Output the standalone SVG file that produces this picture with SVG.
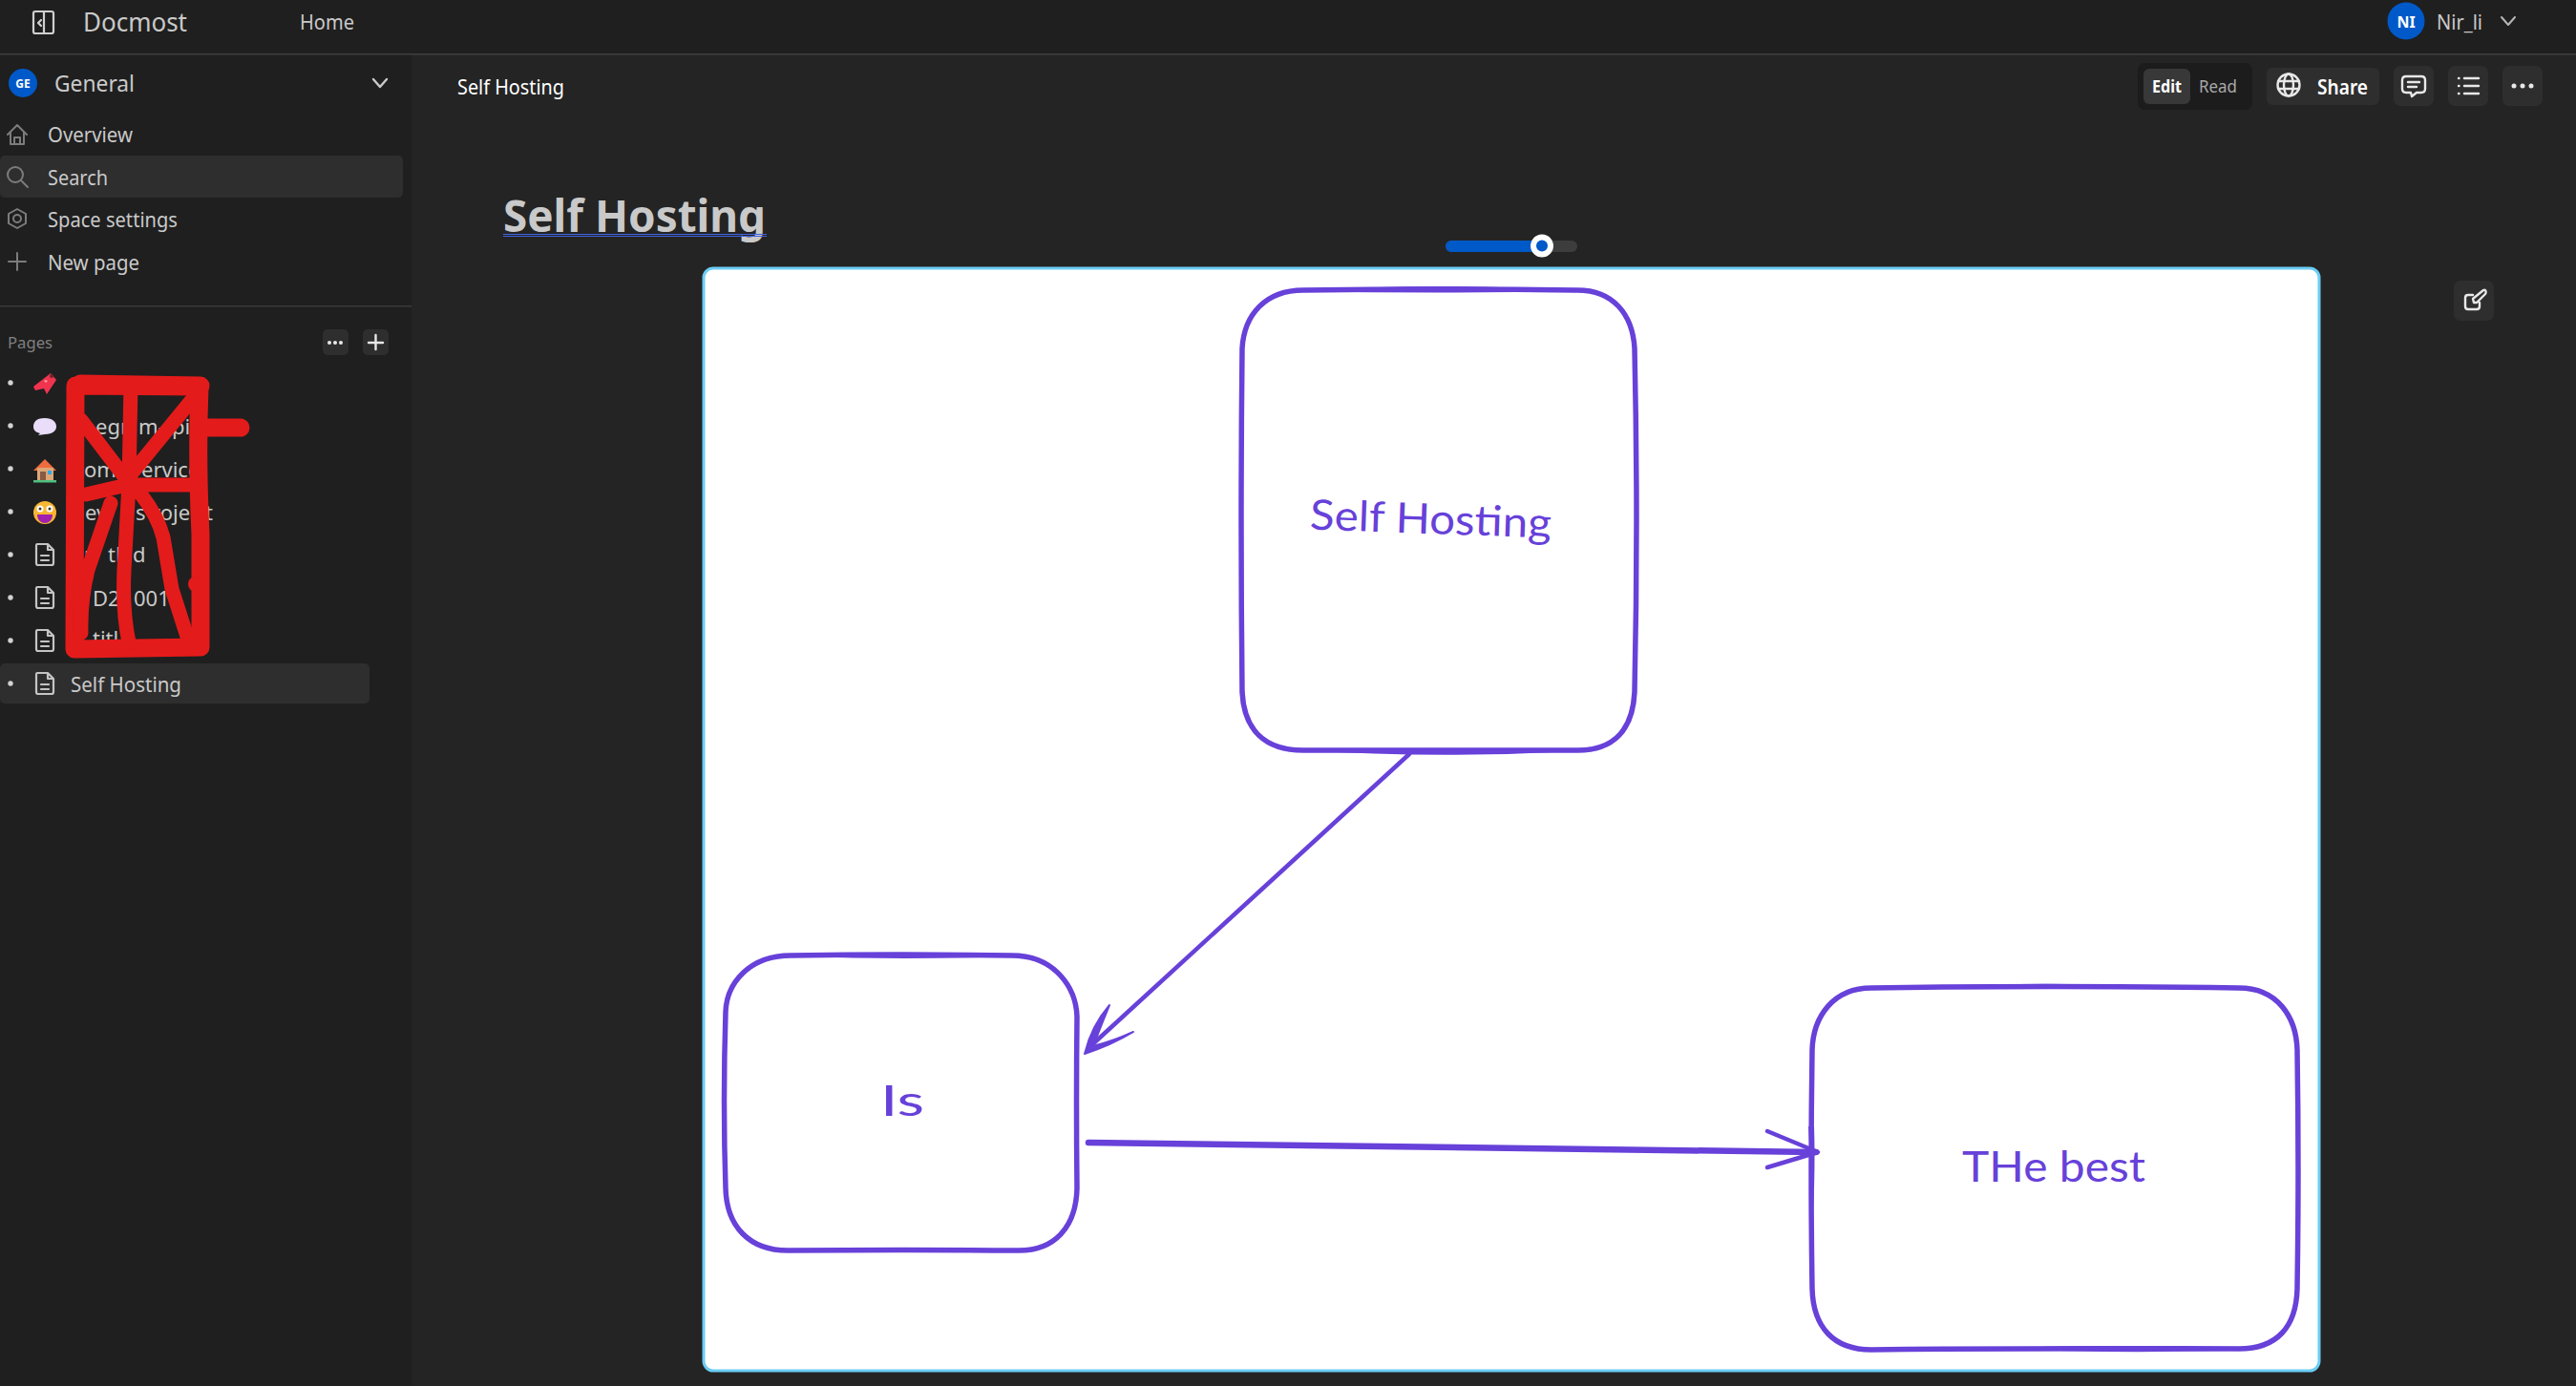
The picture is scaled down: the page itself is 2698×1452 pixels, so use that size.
<svg xmlns="http://www.w3.org/2000/svg" width="2698" height="1452" viewBox="0 0 2698 1452">
<style>
text{font-family:"Noto Sans","Open Sans",sans-serif;fill:#c9c9c9;font-size:21px}
.w{fill:#fff}.b{font-weight:700}
.ln{fill:none;stroke-linecap:round;stroke-linejoin:round}
.ic{fill:none;stroke:#7c7c7c;stroke-width:2;stroke-linecap:round;stroke-linejoin:round}
.iw{fill:none;stroke:#e8e8e8;stroke-width:2.4;stroke-linecap:round;stroke-linejoin:round}
.doc{fill:none;stroke:#c4c4c4;stroke-width:2.2;stroke-linejoin:round;stroke-linecap:round}
.btn{fill:#2e2e2e}
.dot{fill:#d2d2d2}
.red{fill:none;stroke:#e41b1b;stroke-width:19;stroke-linecap:round;stroke-linejoin:round}
.red2{fill:none;stroke:#e41b1b;stroke-width:15;stroke-linecap:round;stroke-linejoin:round}
.sk{fill:none;stroke:#6741d9;stroke-width:5.5;stroke-linecap:round;stroke-linejoin:round}
.lens{fill:#6741d9}
.hand{font-family:"Lato","Noto Sans",sans-serif;fill:#6741d9;font-size:44px}
</style>
<defs>
<g id="docicon"><path class="doc" d="M-8-11H3L9-5V9Q9 11 7 11H-7Q-9 11-9 9V-9Q-9-11-8-11ZM3-11V-5H9M-4 1H4M-4 6H4"/></g>
</defs>
<rect id="bg" width="2698" height="1452" fill="#242424"/>
<rect id="sidebar" y="56" width="431" height="1396" fill="#1f1f1f"/>
<g id="header">
<rect width="2698" height="56" fill="#1f1f1f"/>
<rect y="56" width="2698" height="1.5" fill="#3f3f3f"/>
<rect class="doc" style="stroke:#d0d0d0" x="35" y="12" width="21" height="23" rx="2"/><path class="doc" style="stroke:#d0d0d0" d="M46 12V35M43 21L40 24L43 27"/>
<text x="87" y="33" style="font-size:28px" textLength="109" lengthAdjust="spacingAndGlyphs">Docmost</text>
<text x="314" y="31" textLength="57" lengthAdjust="spacingAndGlyphs">Home</text>
<circle cx="2520" cy="22" r="19.5" fill="#0059c8"/>
<text x="2520" y="29" text-anchor="middle" class="w b" style="font-size:16px">NI</text>
<text x="2552" y="31" textLength="48" lengthAdjust="spacingAndGlyphs">Nir_li</text>
<path class="ic" style="stroke:#b5b5b5" d="M2620 18L2627 26L2634 18"/>
</g>
<g id="nav">
<circle cx="24" cy="87" r="15" fill="#0059c8"/>
<text x="24" y="92" text-anchor="middle" class="w b" style="font-size:12px">GE</text>
<text x="57" y="96" style="font-size:24px" textLength="84" lengthAdjust="spacingAndGlyphs">General</text>
<path class="iw" style="stroke:#c9c9c9" d="M391 83L398 91L405 83"/>
<path class="ic" d="M8 141L18 131L28 141M11 138V151H25V138M15 151V144H21V151"/>
<text x="50" y="149" textLength="89" lengthAdjust="spacingAndGlyphs">Overview</text>
<rect y="163" width="422" height="44" rx="5" fill="#2e2e2e"/>
<circle class="ic" cx="16" cy="183" r="8"/><path class="ic" d="M22 189L29 196"/>
<text x="50" y="194" textLength="63" lengthAdjust="spacingAndGlyphs">Search</text>
<path class="ic" d="M18 219L27 224V234L18 239L9 234V224Z"/><circle class="ic" cx="18" cy="229" r="4"/>
<text x="50" y="238" textLength="136" lengthAdjust="spacingAndGlyphs">Space settings</text>
<path class="ic" d="M18 265V283M9 274H27"/>
<text x="50" y="283" textLength="96" lengthAdjust="spacingAndGlyphs">New page</text>
<rect y="320" width="431" height="1.5" fill="#3a3a3a"/>
</g>
<g id="pages">
<text x="8" y="365" style="font-size:17px;fill:#808080" textLength="47" lengthAdjust="spacingAndGlyphs">Pages</text>
<rect class="btn" x="338" y="345" width="27" height="27" rx="5"/><circle fill="#e8e8e8" cx="345" cy="359" r="2"/><circle fill="#e8e8e8" cx="351" cy="359" r="2"/><circle fill="#e8e8e8" cx="357" cy="359" r="2"/>
<rect class="btn" x="380" y="345" width="27" height="27" rx="5"/><path class="iw" d="M393.500 351V366M386 359H401"/>
<g class="bul"><circle class="dot" cx="11" cy="401" r="2.700"/><circle class="dot" cx="11" cy="446" r="2.700"/><circle class="dot" cx="11" cy="491" r="2.700"/><circle class="dot" cx="11" cy="536" r="2.700"/><circle class="dot" cx="11" cy="581" r="2.700"/><circle class="dot" cx="11" cy="626" r="2.700"/><circle class="dot" cx="11" cy="671" r="2.700"/></g>
<path d="M35 405L53 391L59 398L49 413L46 407L37 409Z" fill="#f0344f"/><circle cx="54" cy="394" r="2" fill="#6a2430"/><path d="M48 401l-2-2 2-1 2 1z" fill="#ff9aa8"/>
<path d="M47 438C37 438 35 443 35 447C35 451 38 453 42 454L40 456L47 455C55 455 59 451 59 447C59 442 55 438 47 438Z" fill="#e9ddfa"/>
<path d="M47 481L59 493H35Z" fill="#ee6c3e"/><rect x="39" y="490" width="17" height="13" fill="#dca878"/><rect x="42" y="494" width="6" height="9" fill="#8a5b44"/><rect x="50" y="493" width="4" height="4" fill="#32a8e8"/><rect x="35" y="503" width="24" height="2.500" fill="#4fbf7f"/>
<circle cx="47" cy="537" r="12" fill="#f7b733"/><circle cx="42" cy="533" r="3.500" fill="#fff"/><circle cx="52" cy="533" r="3.500" fill="#fff"/><circle cx="42" cy="533" r="1.500" fill="#432"/><circle cx="52" cy="533" r="1.500" fill="#432"/><path d="M39 539H55C55 545 51 548 47 548C43 548 39 545 39 539Z" fill="#a020b0"/>
<use href="#docicon" x="47" y="581"/><use href="#docicon" x="47" y="626"/><use href="#docicon" x="47" y="671"/>
<g id="fragments">
<text x="176" y="412">NFO</text>
<text y="455" style="font-size:22px"><tspan x="100">egr</tspan><tspan x="145">m-</tspan><tspan x="180">pi-</tspan></text>
<text y="500" style="font-size:22px"><tspan x="88">om</tspan><tspan x="148">ervice</tspan></text>
<text y="545" style="font-size:22px"><tspan x="89">ev</tspan><tspan x="142">s</tspan><tspan x="159">roje</tspan><tspan x="215">t</tspan></text>
<text y="589" style="font-size:22px"><tspan x="88">n</tspan><tspan x="113">tl</tspan><tspan x="139">d</tspan></text>
<text y="635" style="font-size:22px"><tspan x="97">D</tspan><tspan x="113">2</tspan><tspan x="140">001</tspan></text>
<text x="97" y="677" style="font-size:22px">titl</text>
</g>
<g id="redaction">
<path class="red" d="M79 404L78 680L210 678L210 560Q206 480 209 405Z"/>
<path class="red" d="M84 402L210 404M213 448H252"/>
<path class="red2" d="M137 402L135 507L130 597Q128 640 135 673M85 440L133 503M200 420L137 497M90 518L133 508H207M116 527L92 597Q84 630 85 663M147 517Q165 540 171 563L180 617L197 670"/>
<circle cx="205" cy="612" r="8" fill="#e41b1b"/>
</g>
<rect y="695" width="387" height="42" rx="5" fill="#2e2e2e"/>
<circle class="dot" cx="11" cy="716" r="2.700"/>
<use href="#docicon" x="47" y="716"/>
<text x="74" y="725" textLength="116" lengthAdjust="spacingAndGlyphs">Self Hosting</text>
</g>
<g id="page-head">
<text x="479" y="99" class="w" textLength="112" lengthAdjust="spacingAndGlyphs">Self Hosting</text>
<text x="527" y="243" class="b" style="font-size:46px;fill:#c9c9c9" textLength="275" lengthAdjust="spacingAndGlyphs">Self Hosting</text>
<path d="M527 245.500H803M527 247.500H803" stroke="#3f62e0" stroke-width="1" fill="none"/>
</g>
<g id="toolbar">
<rect x="2239" y="66" width="120" height="49" rx="7" fill="#1c1c1c"/>
<rect x="2245" y="72" width="49" height="37" rx="6" fill="#383838"/>
<text x="2254" y="97" class="w b" style="font-size:18px" textLength="31" lengthAdjust="spacingAndGlyphs">Edit</text>
<text x="2303" y="97" style="font-size:18px;fill:#a8a8a8" textLength="40" lengthAdjust="spacingAndGlyphs">Read</text>
<rect class="btn" x="2374" y="71" width="118" height="39" rx="6"/>
<g class="iw"><circle cx="2397" cy="89" r="11.500"/><ellipse cx="2397" cy="89" rx="5" ry="11.500"/><path d="M2386 85H2408M2386 93H2408"/></g>
<text x="2427" y="99" class="w" style="font-weight:600" textLength="53" lengthAdjust="spacingAndGlyphs">Share</text>
<rect class="btn" x="2507" y="69" width="42" height="42" rx="7"/>
<path class="iw" d="M2520 80H2536Q2540 80 2540 84V93Q2540 97 2536 97H2531L2526 101L2525 97H2520Q2516 97 2516 93V84Q2516 80 2520 80ZM2522 86H2534M2522 91H2531"/>
<rect class="btn" x="2564" y="69" width="42" height="42" rx="7"/>
<path class="iw" d="M2581 82H2596M2581 90H2596M2581 98H2596M2575 82H2575.500M2575 90H2575.500M2575 98H2575.500"/>
<rect class="btn" x="2621" y="69" width="42" height="42" rx="7"/>
<circle cx="2633" cy="90" r="2.500" fill="#e8e8e8"/><circle cx="2642" cy="90" r="2.500" fill="#e8e8e8"/><circle cx="2651" cy="90" r="2.500" fill="#e8e8e8"/>
<rect class="btn" x="2570" y="294" width="42" height="42" rx="7"/>
<path class="iw" d="M2590 309H2585Q2582 309 2582 312V321Q2582 324 2585 324H2594Q2597 324 2597 321V317M2591 317L2590 313L2601 304Q2603 303 2603.500 305Q2604 307 2603 308L2594 317Z"/>
</g>
<g id="slider">
<rect x="1514" y="252" width="138" height="12" rx="6" fill="#3d3d3d"/>
<rect x="1514" y="252" width="102" height="12" rx="6" fill="#0059c8"/>
<circle cx="1615" cy="257.500" r="9" fill="#0059c8" stroke="#fff" stroke-width="6"/>
</g>
<rect id="canvas" x="737" y="281" width="1692" height="1155" rx="10" fill="#fff" stroke="#6bcdf5" stroke-width="3"/>
<g id="connectors">
<path class="sk" style="stroke-width:4.500" d="M1476 790L1140 1098"/>
<path class="lens" d="M1162 1053Q1150 1082 1146 1094L1136 1104Q1143 1075 1162 1053ZM1187 1081Q1165 1091 1148 1095L1136 1104Q1164 1095 1187 1081Z" stroke="#6741d9" stroke-width="2" stroke-linejoin="round"/>
<path class="sk" style="stroke-width:6.500" d="M1140 1197L1902 1207"/>
<path class="sk" style="stroke-width:4.500" d="M1851 1185L1904 1207L1851 1223"/>
</g>
<g id="node-self-hosting">
<path class="sk" d="M1365 304Q1505 302 1650 304C1690 303 1710 330 1712 365Q1716 545 1712 725C1710 765 1690 787 1650 786Q1505 786 1365 786C1325 786 1303 765 1301 725Q1299 545 1301 365C1303 330 1325 304 1365 304Z"/>
<path class="lens" d="M1365 305Q1505 295 1650 305Q1505 308 1365 305ZM1365 786Q1505 795 1650 787Q1505 783 1365 786Z"/>
<text class="hand" x="1372" y="559" textLength="253" lengthAdjust="spacingAndGlyphs" transform="rotate(2 1498 545)">Self Hosting</text>
</g>
<g id="node-is">
<path class="sk" d="M828 1001Q945 999 1060 1001C1105 1001 1127 1035 1128 1065Q1127 1155 1128 1245C1127 1285 1105 1311 1065 1310Q945 1309 825 1310C785 1310 761 1285 760 1245Q757 1155 760 1060C761 1030 785 1001 828 1001Z"/>
<path class="lens" d="M840 1002Q945 995 1060 1002Q945 1006 840 1002Z"/>
<text class="hand" x="922" y="1169" textLength="46" lengthAdjust="spacingAndGlyphs">Is</text>
</g>
<g id="node-the-best">
<path class="sk" d="M1960 1035Q2150 1032 2345 1035C2385 1035 2405 1065 2406 1100Q2408 1225 2406 1350C2405 1390 2385 1413 2345 1413Q2150 1412 1960 1414C1920 1414 1899 1390 1898 1350Q1896 1225 1898 1100C1899 1065 1920 1035 1960 1035Z"/>
<path class="lens" d="M1970 1035Q2150 1026 2335 1036Q2150 1035 1970 1035ZM2100 1413Q2200 1406 2335 1415Q2200 1418 2100 1413ZM1894 1180Q1898 1240 1896 1320Q1902 1240 1900 1180Z"/>
<text class="hand" x="2055" y="1238" textLength="192" lengthAdjust="spacingAndGlyphs">THe best</text>
</g>
</svg>
